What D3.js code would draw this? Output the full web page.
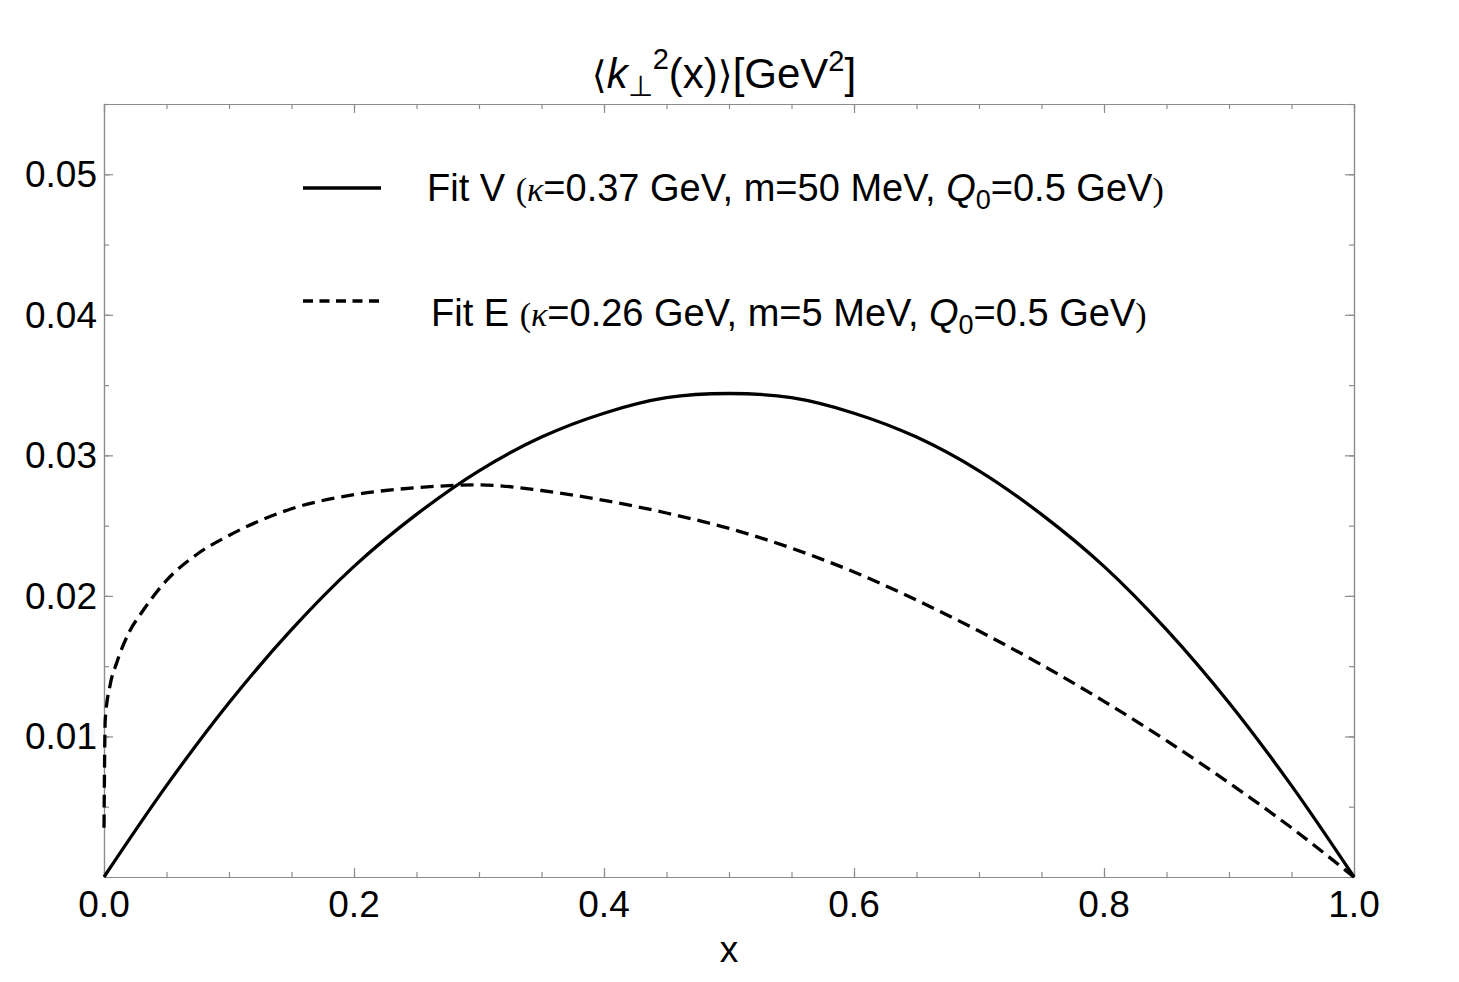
<!DOCTYPE html>
<html>
<head>
<meta charset="utf-8">
<script src="https://cdn.jsdelivr.net/npm/d3@7"></script>
<style>
  body { margin: 0; background: white; }
  text { font-family: "Liberation Sans", Arial, sans-serif; fill: black; }
</style>
</head>
<body>
<script>
var width = 1459;
var height = 982;
var margin = {left: 104, right: 105, top: 104, bottom: 105};

// Fit V (solid)
var xV = [0, 0.05, 0.1, 0.15, 0.2, 0.25, 0.3, 0.35, 0.4, 0.45, 0.5, 0.55, 0.6, 0.65, 0.7, 0.75, 0.8, 0.85, 0.9, 0.95, 1.0];
var fitV = [0, 0.0065, 0.0124, 0.0176, 0.0221, 0.0258, 0.0289, 0.0313, 0.0330, 0.0341, 0.0344, 0.0341, 0.0330, 0.0313, 0.0289, 0.0258, 0.0221, 0.0176, 0.0124, 0.0065, 0];

// Fit E (dashed)
var xE = [0, 0.001, 0.005, 0.01, 0.02, 0.03, 0.05, 0.075, 0.1, 0.15, 0.2, 0.25, 0.3, 0.35, 0.4, 0.45, 0.5, 0.55, 0.6, 0.65, 0.7, 0.75, 0.8, 0.85, 0.9, 0.95, 1.0];
var fitE = [0.0035, 0.0112, 0.0137, 0.0152, 0.0174, 0.0188, 0.0211, 0.0230, 0.0243, 0.0262, 0.0272, 0.0277, 0.0279, 0.0275, 0.0268, 0.0259, 0.0248, 0.0234, 0.0217, 0.0197, 0.0175, 0.0151, 0.0125, 0.0097, 0.0067, 0.0035, 0];

var xTicks = [0, 0.2, 0.4, 0.6, 0.8, 1.0];
var yTicks = [0.01, 0.02, 0.03, 0.04, 0.05];

var svg = d3.select("body")
            .append("svg")
            .attr("width", width)
            .attr("height", height);

var xScale = d3.scaleLinear()
               .domain([0, 1])
               .range([margin.left, width - margin.right]);

var yScale = d3.scaleLinear()
               .domain([0, 0.055])
               .range([height - margin.bottom, margin.top]);

var minorX = d3.range(0, 1.0001, 0.05);
var minorY = d3.range(0, 0.0551, 0.005);

var frameColor = "#8c8c8c";

// frame with inward ticks on every side, minor and major in their own groups
var axes = [
  {make: () => d3.axisBottom(xScale), t: "translate(0," + yScale(0) + ")", major: xTicks, minor: minorX},
  {make: () => d3.axisTop(xScale), t: "translate(0," + yScale(0.055) + ")", major: xTicks, minor: minorX},
  {make: () => d3.axisLeft(yScale), t: "translate(" + xScale(0) + ",0)", major: yTicks, minor: minorY},
  {make: () => d3.axisRight(yScale), t: "translate(" + xScale(1) + ",0)", major: yTicks, minor: minorY}
];

axes.forEach(function(a) {
  svg.append("g")
     .attr("transform", a.t)
     .call(a.make().tickValues(a.minor).tickSize(-5).tickSizeOuter(0).tickFormat(""));
  svg.append("g")
     .attr("transform", a.t)
     .call(a.make().tickValues(a.major).tickSize(-9).tickSizeOuter(0).tickFormat(""));
});
svg.selectAll(".domain, .tick line")
   .attr("stroke", frameColor)
   .attr("stroke-width", 1.2);

// tick labels
svg.append("g")
   .selectAll("text")
   .data(xTicks)
   .enter()
   .append("text")
   .attr("x", (d) => xScale(d))
   .attr("y", yScale(0) + 40)
   .attr("text-anchor", "middle")
   .style("font-size", "37px")
   .text((d) => d3.format(".1f")(d));

svg.append("g")
   .selectAll("text")
   .data(yTicks)
   .enter()
   .append("text")
   .attr("x", xScale(0) - 7)
   .attr("y", (d) => yScale(d) + 13)
   .attr("text-anchor", "end")
   .style("font-size", "37px")
   .text((d) => d3.format(".2f")(d));

svg.append("text")
   .attr("x", xScale(0.5))
   .attr("y", 962)
   .attr("text-anchor", "middle")
   .style("font-size", "37px")
   .text("x");

// title
var title = svg.append("text")
               .attr("x", 724)
               .attr("y", 88)
               .attr("text-anchor", "middle")
               .style("font-size", "42px");
title.append("tspan").style("font-family", "DejaVu Sans").style("font-size", "38px").text("\u27E8");
title.append("tspan").style("font-style", "italic").text("k");
title.append("tspan").attr("dy", 8).style("font-size", "29px").text("\u22A5");
title.append("tspan").attr("dy", -27).style("font-size", "29px").text("2");
title.append("tspan").attr("dy", 19).text("(x)");
title.append("tspan").style("font-family", "DejaVu Sans").style("font-size", "38px").text("\u27E9");
title.append("tspan").text("[GeV");
title.append("tspan").attr("dy", -17).style("font-size", "29px").text("2");
title.append("tspan").attr("dy", 17).text("]");

// curves
var lineV = d3.line()
              .x((d, i) => xScale(xV[i]))
              .y((d) => yScale(d))
              .curve(d3.curveCatmullRom);

var lineE = d3.line()
              .x((d, i) => xScale(xE[i]))
              .y((d) => yScale(d))
              .curve(d3.curveMonotoneX);

svg.append("path")
   .attr("d", lineV(fitV))
   .attr("fill", "none")
   .attr("stroke", "black")
   .attr("stroke-width", 3.3);

svg.append("path")
   .attr("d", lineE(fitE))
   .attr("fill", "none")
   .attr("stroke", "black")
   .attr("stroke-width", 3.3)
   .attr("stroke-dasharray", "13,7");

// legend
var legendItems = [
  {name: "Fit V ", kappa: "0.37", mass: "50", dash: null, y: 188, tx: 427, ty: 201},
  {name: "Fit E ", kappa: "0.26", mass: "5", dash: "10,6.5", y: 301, tx: 431, ty: 326}
];

legendItems.forEach(function(item) {
  svg.append("line")
     .attr("x1", 303).attr("x2", 381)
     .attr("y1", item.y).attr("y2", item.y)
     .attr("stroke", "black")
     .attr("stroke-width", 3.3)
     .attr("stroke-dasharray", item.dash);

  var t = svg.append("text")
             .attr("x", item.tx)
             .attr("y", item.ty)
             .style("font-size", "38px");
  t.append("tspan").text(item.name);
  t.append("tspan").style("font-family", "Liberation Serif").style("font-size", "34px").text("(");
  t.append("tspan").style("font-family", "Liberation Serif").style("font-style", "italic").style("font-size", "34px").text("\u03BA");
  t.append("tspan").text("=" + item.kappa + " GeV, m=" + item.mass + " MeV, ");
  t.append("tspan").style("font-style", "italic").text("Q");
  t.append("tspan").attr("dy", 8).style("font-size", "27px").text("0");
  t.append("tspan").attr("dy", -8).text("=0.5 GeV");
  t.append("tspan").style("font-family", "Liberation Serif").style("font-size", "34px").text(")");
});
</script>
</body>
</html>
